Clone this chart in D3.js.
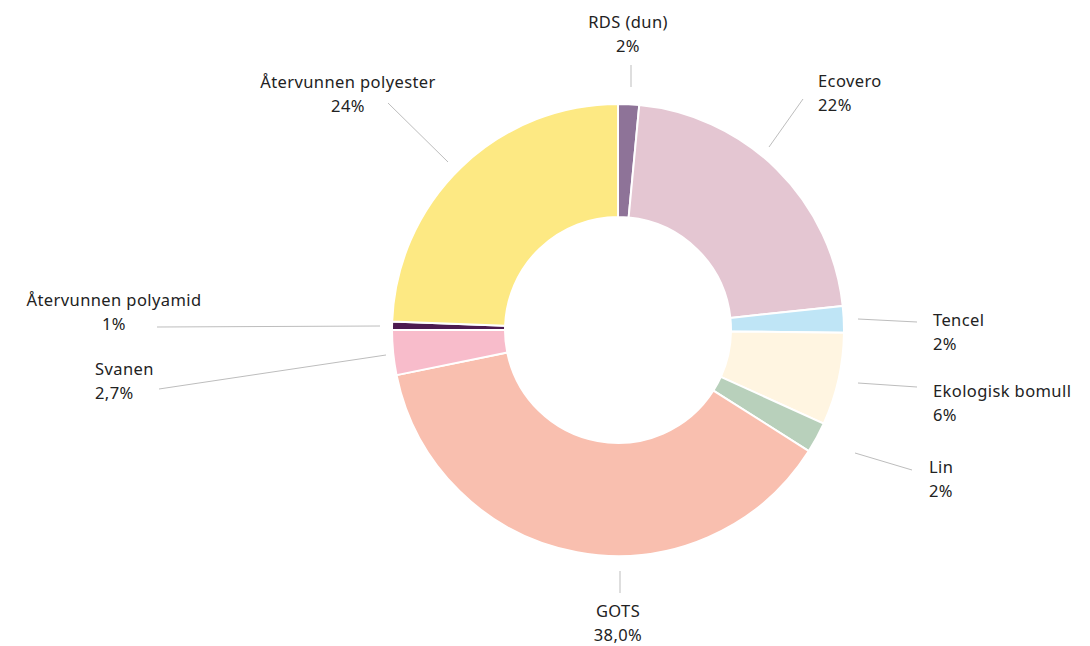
<!DOCTYPE html>
<html>
<head>
<meta charset="utf-8">
<script src="https://cdn.jsdelivr.net/npm/d3@7"></script>
<style>
  body { margin: 0; background: #fff; }
  svg text { font-family: "Noto Sans", "Open Sans", sans-serif; font-size: 16.5px; letter-spacing: 0.4px; fill: #222; }
</style>
</head>
<body>
<script>
var width = 1090,
    height = 646;

// data, clockwise from 12 o'clock
var names = ["RDS (dun)", "Ecovero", "Tencel", "Ekologisk bomull", "Lin", "GOTS", "Svanen", "Återvunnen polyamid", "Återvunnen polyester"];
var values = [1.5, 21.8, 1.9, 6.6, 2.2, 37.8, 3.2, 0.6, 24.4];
var valueLabels = ["2%", "22%", "2%", "6%", "2%", "38,0%", "2,7%", "1%", "24%"];
var colors = ["#8e7398", "#e4c6d2", "#bfe5f6", "#fff5e1", "#b8d0bb", "#f9bfaf", "#f8bccb", "#4d1b50", "#fde983"];

// label placement relative to the pie centre: leader line (x1,y1,x2,y2), text x,y and anchor
var labelLayout = [
  [13, -265, 13, -243, 10, -302, "middle"],
  [151, -183, 185, -231, 200, -243, "start"],
  [240, -11, 299, -8, 315, -4, "start"],
  [240, 53, 299, 57, 315, 67, "start"],
  [237, 123, 294, 140, 311, 143, "start"],
  [2, 241, 2, 263, 0, 287, "middle"],
  [-232, 25, -459, 59, -523, 45, "start"],
  [-238, -4, -461, -3, -504, -24, "middle"],
  [-170, -168, -230, -227, -270, -242, "middle"]
];

var cx = 618, cy = 330,
    outer = 226, inner = 113;

var svg = d3.select("body").append("svg").attr("width", width).attr("height", height);
var g = svg.append("g").attr("transform", "translate(" + cx + "," + cy + ")");

var pie = d3.pie().sort(null).value(function (d) { return d; });
var arc = d3.arc().innerRadius(inner).outerRadius(outer);
var arcs = pie(values);

g.selectAll("path.slice").data(arcs).enter().append("path")
    .attr("class", "slice")
    .attr("d", arc)
    .attr("fill", function (d, i) { return colors[i]; })
    .attr("stroke", "#fff")
    .attr("stroke-width", 2)
    .attr("stroke-linejoin", "round");

// leader lines
g.selectAll("line.leader").data(labelLayout).enter().append("line")
    .attr("class", "leader")
    .attr("x1", function (d) { return d[0]; })
    .attr("y1", function (d) { return d[1]; })
    .attr("x2", function (d) { return d[2]; })
    .attr("y2", function (d) { return d[3]; })
    .attr("stroke", "#bdbdbd")
    .attr("stroke-width", 1);

// labels: name on first line, value below
var labels = g.selectAll("text.label").data(names).enter().append("text")
    .attr("class", "label")
    .attr("x", function (d, i) { return labelLayout[i][4]; })
    .attr("y", function (d, i) { return labelLayout[i][5]; })
    .attr("text-anchor", function (d, i) { return labelLayout[i][6]; });

labels.append("tspan").text(function (d) { return d; });
labels.append("tspan")
    .attr("x", function (d, i) { return labelLayout[i][4]; })
    .attr("dy", 23.5)
    .text(function (d, i) { return valueLabels[i]; });
</script>
</body>
</html>
